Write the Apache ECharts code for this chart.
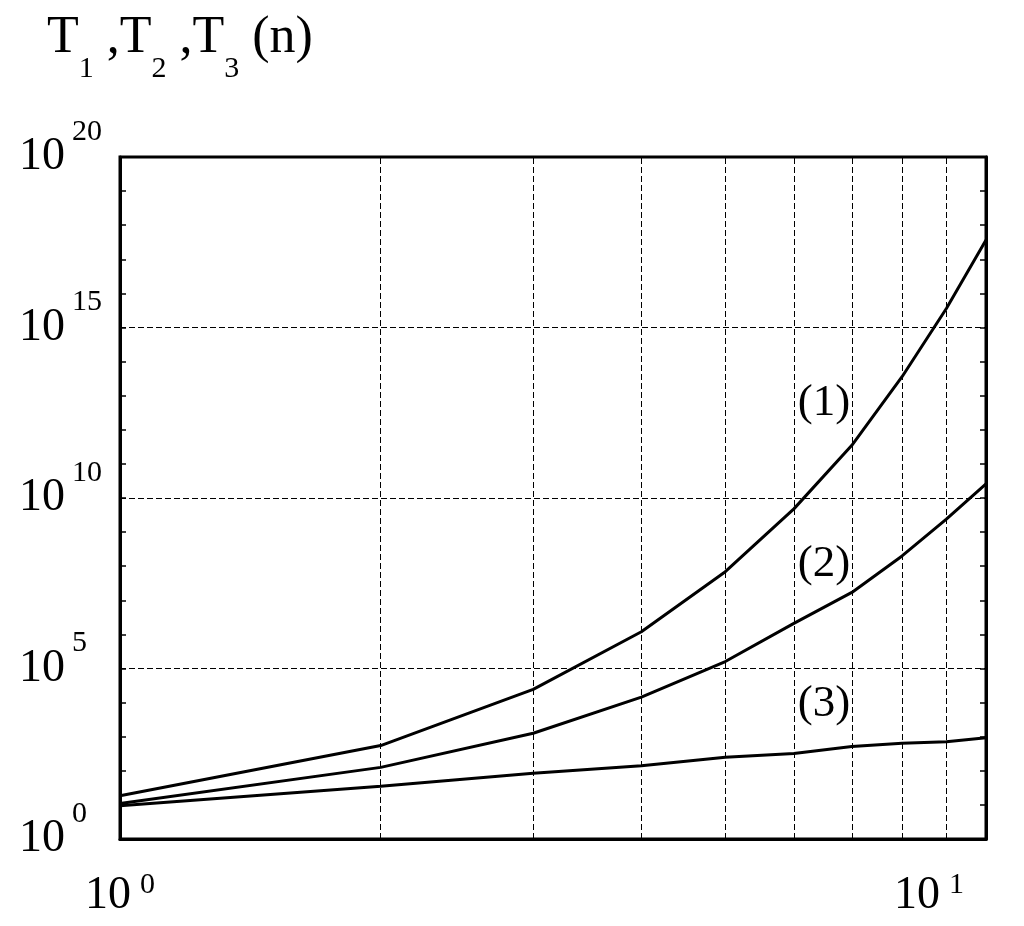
<!DOCTYPE html>
<html>
<head>
<meta charset="utf-8">
<script src="https://cdn.jsdelivr.net/npm/echarts@6/dist/echarts.min.js"></script>
<style>
  html, body { margin: 0; padding: 0; background: #fff; }
  #main { width: 1024px; height: 926px; }
</style>
</head>
<body>
<div id="main"></div>
<script>
// values (log-log plot, n = 1..10)
var nValues = [1, 2, 3, 4, 5, 6, 7, 8, 9, 10];
var t1 = [18.6, 550, 2.45e4, 1.2e6, 6.9e7, 4.8e9, 3.5e11, 3.6e13, 3.6e15, 3.7e17];
var t2 = [11, 126, 1.26e3, 1.45e4, 1.6e5, 2.1e6, 1.7e7, 2.0e8, 2.4e9, 2.6e10];
var t3 = [9.5, 35.5, 85, 141, 251, 324, 513, 646, 708, 933];

var xGridLines = [2, 3, 4, 5, 6, 7, 8, 9];
var xTickExp = [0, 1];
var yTickExp = [0, 5, 10, 15, 20];
var curveLabels = ['(1)', '(2)', '(3)'];

var serif = 'Liberation Serif';
var black = '#000';
var dash = [6, 3];

function pairs(ys) {
  return nValues.map(function (n, i) { return [n, ys[i]]; });
}

var chart = echarts.init(document.getElementById('main'));

var curves = [t1, t2, t3];
// where the (1)/(2)/(3) tags sit, in data coords
var tagAt = [[6.5, 6.2e12], [6.5, 1.15e8], [6.5, 9.1e3]];

var series = curves.map(function (ys, i) {
  return {
    type: 'line',
    xAxisIndex: 0,
    yAxisIndex: 0,
    data: pairs(ys),
    symbol: 'none',
    showSymbol: false,
    silent: true,
    z: 3,
    lineStyle: { color: black, width: 3 },
    markPoint: {
      symbol: 'circle',
      symbolSize: 1,
      silent: true,
      itemStyle: { color: 'rgba(0,0,0,0)' },
      label: {
        show: true, position: 'inside', formatter: curveLabels[i],
        color: black, fontSize: 45, fontFamily: serif
      },
      data: [{ coord: tagAt[i] }]
    }
  };
});

series[2].markLine = {
  silent: true,
  symbol: ['none', 'none'],
  label: { show: false },
  emphasis: { disabled: true },
  lineStyle: { color: black, width: 1, type: dash },
  data: xGridLines.map(function (v) { return { xAxis: v }; })
};

var yRich = {
  m: { fontSize: 46, fontFamily: serif, color: black, lineHeight: 46, verticalAlign: 'middle' },
  s: { fontSize: 30, fontFamily: serif, color: black, lineHeight: 30, padding: [0, 0, 50, 7], verticalAlign: 'middle' }
};
var xRich = {
  m: { fontSize: 46, fontFamily: serif, color: black, lineHeight: 46, verticalAlign: 'middle' },
  s: { fontSize: 30, fontFamily: serif, color: black, lineHeight: 30, padding: [0, 0, 22, 9], verticalAlign: 'middle' },
  g: { fontSize: 10, width: 22 }
};

var tickAxis = function (pos, showLine) {
  return {
    type: 'value',
    position: pos,
    min: yTickExp[0],
    max: yTickExp[yTickExp.length - 1],
    interval: 1,
    axisLine: { show: showLine, lineStyle: { color: black, width: 3 } },
    axisTick: { show: true, inside: true, length: 6, lineStyle: { color: black, width: 1.5 } },
    axisLabel: { show: false },
    splitLine: { show: false }
  };
};

chart.setOption({
  animation: false,
  backgroundColor: '#fff',
  textStyle: { fontFamily: serif },
  title: {
    left: 47,
    top: 12,
    padding: 0,
    text: '{t|T}{b|1}{t| ,T}{b|2}{t| ,T}{b|3}{t| (n)}',
    textStyle: {
      fontWeight: 'normal',
      rich: {
        t: { fontSize: 52, fontFamily: serif, fontWeight: 'normal', color: black, lineHeight: 52, verticalAlign: 'top' },
        b: { fontSize: 30, fontFamily: serif, fontWeight: 'normal', color: black, lineHeight: 30, padding: [42, 0, 0, 0], verticalAlign: 'top' }
      }
    }
  },
  grid: {
    left: 120, right: 38, top: 157, bottom: 87,
    show: true, borderColor: black, borderWidth: 3, backgroundColor: 'transparent',
    outerBoundsMode: 'none'
  },
  xAxis: [{
    type: 'log',
    logBase: 10,
    min: 1,
    max: 10,
    axisLine: { show: true, onZero: false, lineStyle: { color: black, width: 3 } },
    axisTick: { show: false },
    minorTick: { show: false },
    splitLine: { show: false },
    axisLabel: {
      margin: 34,
      alignMinLabel: 'center',
      alignMaxLabel: 'right',
      rich: xRich,
      formatter: function (v) {
        var e = Math.round(Math.log(v) / Math.LN10);
        if (xTickExp.indexOf(e) < 0) return '';
        var s = '{m|10}{s|' + e + '}';
        if (e === xTickExp[xTickExp.length - 1]) s += '{g| }';
        return s;
      }
    }
  }],
  yAxis: [
    { type: 'log', logBase: 10, min: 1, max: 1e20, show: false },
    {
      type: 'value',
      position: 'left',
      min: yTickExp[0],
      max: yTickExp[yTickExp.length - 1],
      interval: yTickExp[1] - yTickExp[0],
      axisLine: { show: true, lineStyle: { color: black, width: 3 } },
      axisTick: { show: false },
      axisLabel: {
        margin: 101,
        align: 'left',
        rich: yRich,
        formatter: function (v) { return '{m|10}{s|' + v + '}'; }
      },
      splitLine: { show: true, lineStyle: { color: black, width: 1, type: dash } }
    },
    tickAxis('left', false),
    tickAxis('right', true)
  ],
  series: series
});
</script>
</body>
</html>
